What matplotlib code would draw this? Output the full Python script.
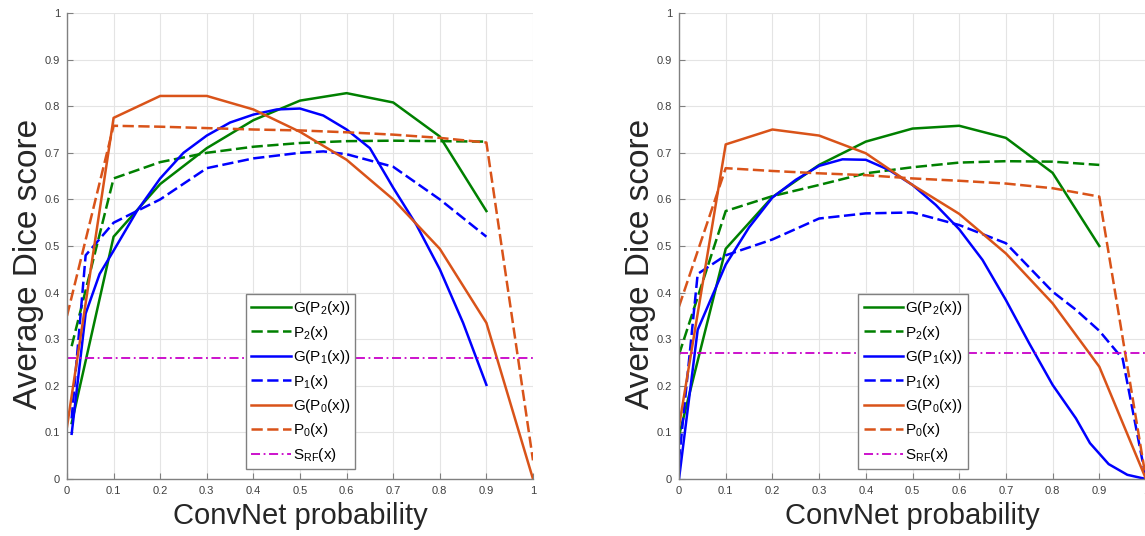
import matplotlib
matplotlib.use("Agg")
import matplotlib.pyplot as plt
import numpy as np

plt.rcParams['font.family'] = ['Liberation Sans', 'DejaVu Sans']
plt.rcParams['mathtext.default'] = 'regular'

# ---- left panel data ----
gp2_lx = [0.01, 0.1, 0.2, 0.3, 0.4, 0.5, 0.6, 0.7, 0.8, 0.9]
gp2_ly = [0.12, 0.52, 0.633, 0.71, 0.77, 0.812, 0.828, 0.808, 0.735, 0.575]
p2_lx = [0.01, 0.1, 0.2, 0.3, 0.4, 0.5, 0.6, 0.7, 0.8, 0.9]
p2_ly = [0.285, 0.645, 0.68, 0.70, 0.713, 0.721, 0.725, 0.726, 0.725, 0.724]
gp1_lx = [0.01, 0.04, 0.07, 0.1, 0.15, 0.2, 0.25, 0.3, 0.35, 0.4, 0.45, 0.5,
          0.55, 0.6, 0.65, 0.7, 0.75, 0.8, 0.85, 0.9]
gp1_ly = [0.097, 0.355, 0.44, 0.49, 0.575, 0.645, 0.70, 0.737, 0.765, 0.782,
          0.793, 0.795, 0.78, 0.75, 0.71, 0.625, 0.545, 0.45, 0.335, 0.202]
p1_lx = [0.01, 0.04, 0.1, 0.2, 0.3, 0.4, 0.5, 0.55, 0.6, 0.7, 0.8, 0.9]
p1_ly = [0.13, 0.48, 0.55, 0.60, 0.667, 0.688, 0.70, 0.703, 0.697, 0.67, 0.60, 0.52]
gp0_lx = [0, 0.1, 0.2, 0.3, 0.4, 0.5, 0.6, 0.7, 0.8, 0.9, 1.0]
gp0_ly = [0.112, 0.775, 0.822, 0.822, 0.793, 0.745, 0.685, 0.60, 0.494, 0.335, 0.0]
p0_lx = [0, 0.1, 0.2, 0.3, 0.4, 0.5, 0.6, 0.7, 0.8, 0.9, 1.0]
p0_ly = [0.35, 0.758, 0.756, 0.753, 0.75, 0.748, 0.744, 0.739, 0.732, 0.722, 0.04]
srf_l = 0.26

# ---- right panel data ----
gp2_rx = [0, 0.1, 0.2, 0.3, 0.4, 0.5, 0.6, 0.7, 0.8, 0.9]
gp2_ry = [0.093, 0.494, 0.605, 0.674, 0.724, 0.752, 0.758, 0.732, 0.657, 0.50]
p2_rx = [0, 0.1, 0.2, 0.3, 0.4, 0.5, 0.6, 0.7, 0.8, 0.9]
p2_ry = [0.267, 0.575, 0.607, 0.631, 0.656, 0.669, 0.679, 0.682, 0.681, 0.674]
gp1_rx = [0, 0.04, 0.1, 0.15, 0.2, 0.25, 0.3, 0.35, 0.4, 0.45, 0.5, 0.55, 0.6,
          0.65, 0.7, 0.75, 0.8, 0.85, 0.88, 0.92, 0.96, 1.0]
gp1_ry = [0.0, 0.32, 0.46, 0.54, 0.604, 0.642, 0.672, 0.686, 0.685, 0.663, 0.631,
          0.588, 0.536, 0.47, 0.384, 0.291, 0.202, 0.13, 0.077, 0.032, 0.009, 0.0]
p1_rx = [0, 0.04, 0.1, 0.2, 0.3, 0.4, 0.5, 0.6, 0.7, 0.8, 0.85, 0.9, 0.95, 1.0]
p1_ry = [0.04, 0.44, 0.48, 0.514, 0.559, 0.57, 0.572, 0.545, 0.506, 0.402, 0.363,
         0.318, 0.258, 0.0]
gp0_rx = [0, 0.1, 0.2, 0.3, 0.4, 0.5, 0.6, 0.7, 0.8, 0.9, 1.0]
gp0_ry = [0.113, 0.718, 0.75, 0.737, 0.699, 0.631, 0.569, 0.484, 0.377, 0.241, 0.0]
p0_rx = [0, 0.1, 0.2, 0.3, 0.4, 0.5, 0.6, 0.7, 0.8, 0.9, 1.0]
p0_ry = [0.37, 0.667, 0.661, 0.656, 0.652, 0.645, 0.64, 0.634, 0.624, 0.606, 0.0]
srf_r = 0.27

labels = [r'G(P$_2$(x))', r'P$_2$(x)', r'G(P$_1$(x))', r'P$_1$(x)',
          r'G(P$_0$(x))', r'P$_0$(x)', r'S$_{RF}$(x)']
tick_vals = np.round(np.arange(0, 1.01, 0.1), 1)
tick_labels = ['0', '0.1', '0.2', '0.3', '0.4', '0.5', '0.6', '0.7', '0.8', '0.9', '1']

green = '#008000'
blue = '#0000ff'
orange = '#d95319'
magenta = '#c800c8'
dash = (0, (4.5, 1.8))
lw = 1.8


def panel(ax, series, srf):
    styles = [(green, '-'), (green, dash), (blue, '-'), (blue, dash),
              (orange, '-'), (orange, dash)]
    for (x, y), (c, ls), lab in zip(series, styles, labels):
        ax.plot(x, y, color=c, linestyle=ls, linewidth=lw, label=lab)
    ax.plot([0, 1], [srf, srf], color=magenta, linestyle=(0, (5, 2, 1, 2)),
            linewidth=1.3, label=labels[6])
    ax.set_xlim(0, 1)
    ax.set_ylim(0, 1)
    ax.set_xticks(tick_vals)
    ax.set_xticklabels(tick_labels)
    ax.set_yticks(tick_vals)
    ax.set_yticklabels(tick_labels)
    ax.grid(True, color='#e4e4e4', linewidth=0.8)
    ax.set_axisbelow(True)
    for s in ['top', 'right']:
        ax.spines[s].set_visible(False)
    for s in ['left', 'bottom']:
        ax.spines[s].set_color('#808080')
        ax.spines[s].set_linewidth(1.0)
    ax.tick_params(direction='in', length=4, color='#808080', labelsize=8,
                   labelcolor='#404040', pad=5)
    ax.set_xlabel('ConvNet probability', fontsize=21, color='#262626', labelpad=4)
    ax.set_ylabel('Average Dice score', fontsize=24, color='#262626')
    ax.yaxis.set_label_coords(-0.049, 0.461)
    leg = ax.legend(loc='lower left', bbox_to_anchor=(0.384, 0.021), borderaxespad=0,
                    fontsize=11, handlelength=2.6, handletextpad=0.1,
                    labelspacing=0.42, fancybox=False, framealpha=1,
                    borderpad=0.35)
    leg.get_frame().set_edgecolor('#808080')
    leg.get_frame().set_linewidth(1.0)


fig = plt.figure(figsize=(11.45, 5.36), dpi=100)
ax1 = fig.add_axes([67 / 1145, 57 / 536, 466 / 1145, 466 / 536])
ax2 = fig.add_axes([679 / 1145, 57 / 536, 467 / 1145, 466 / 536])

panel(ax1, [(gp2_lx, gp2_ly), (p2_lx, p2_ly), (gp1_lx, gp1_ly), (p1_lx, p1_ly),
            (gp0_lx, gp0_ly), (p0_lx, p0_ly)], srf_l)
panel(ax2, [(gp2_rx, gp2_ry), (p2_rx, p2_ry), (gp1_rx, gp1_ry), (p1_rx, p1_ry),
            (gp0_rx, gp0_ry), (p0_rx, p0_ry)], srf_r)

fig.savefig('out.png', dpi=100)
